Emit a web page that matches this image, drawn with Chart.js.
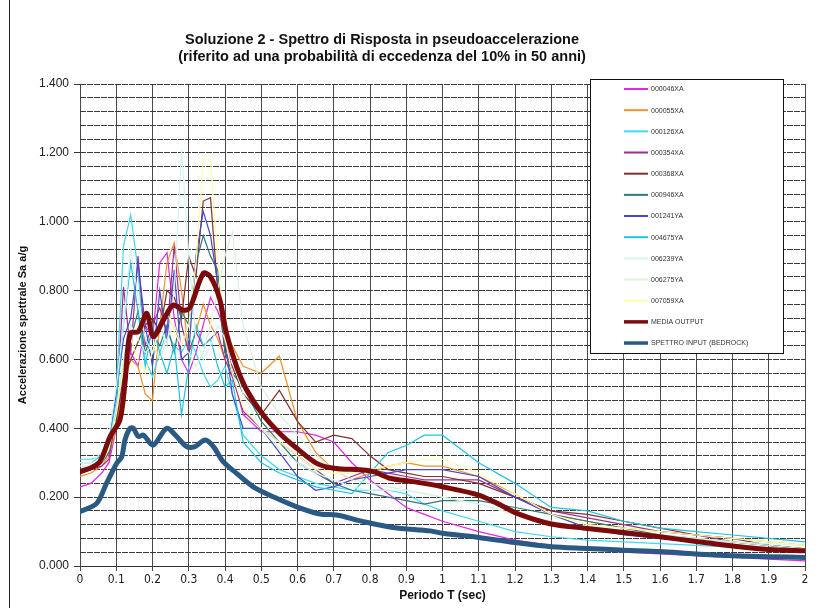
<!DOCTYPE html>
<html>
<head>
<meta charset="utf-8">
<script src="https://cdn.jsdelivr.net/npm/chart.js@4.4.1/dist/chart.umd.min.js"></script>
<style>
  html, body { margin: 0; padding: 0; background: #fff; }
  #wrap { position: relative; width: 823px; height: 608px; }
  #frame { position: absolute; left: 9px; top: 0; width: 1px; height: 608px; background: #222; }
  canvas { display: block; }
</style>
</head>
<body>
<div id="wrap">
  <canvas id="c" width="823" height="608"></canvas>
  <div id="frame"></div>
</div>
<script>
// ---- Data ----
const titleLines = [
  "Soluzione 2 - Spettro di Risposta in pseudoaccelerazione",
  "(riferito ad una probabilità di eccedenza del 10% in 50 anni)"
];
const xTitle = "Periodo T (sec)";
const yTitle = "Accelerazione spettrale Sa a/g";

// Periods (s) for the individual record spectra
const periods = [0, 0.03, 0.06, 0.08, 0.1,
  0.12, 0.14, 0.16, 0.18, 0.2, 0.22, 0.24, 0.26, 0.28, 0.3, 0.32, 0.34, 0.36, 0.38, 0.4,
  0.42, 0.45,
  0.5, 0.55, 0.6, 0.65, 0.7, 0.75, 0.8, 0.85, 0.9, 0.95, 1.0,
  1.1, 1.2, 1.3, 1.4, 1.5, 1.6, 1.7, 1.8, 1.9, 2.0];

const rec000046XA = [0.23,0.24,0.27,0.30,0.40, 0.55,0.62,0.58,0.70,0.66,0.88,0.91,0.72,0.60,0.56,0.62,0.70,0.78,0.74,0.68, 0.56,0.44, 0.39,0.39,0.39,0.38,0.36,0.30,0.25,0.21,0.17,0.15,0.13, 0.10,0.075,0.06,0.05,0.04,0.035,0.03,0.025,0.02,0.015];
const rec000055XA = [0.26,0.27,0.29,0.32,0.40, 0.52,0.60,0.58,0.50,0.48,0.70,0.88,0.94,0.80,0.62,0.68,0.76,0.70,0.66,0.60, 0.64,0.58, 0.56,0.61,0.42,0.33,0.28,0.25,0.27,0.29,0.30,0.29,0.29, 0.26,0.21,0.15,0.13,0.11,0.10,0.09,0.08,0.07,0.06];
const rec000126XA = [0.31,0.31,0.32,0.35,0.50, 0.93,1.02,0.86,0.60,0.55,0.62,0.68,0.64,0.62,0.66,0.62,0.56,0.52,0.54,0.58, 0.50,0.38, 0.32,0.28,0.26,0.24,0.23,0.22,0.22,0.22,0.21,0.18,0.16, 0.13,0.10,0.085,0.075,0.07,0.065,0.06,0.055,0.05,0.05];
const rec000354XA = [0.27,0.28,0.29,0.31,0.45, 0.81,0.62,0.90,0.64,0.70,0.75,0.68,0.93,0.70,0.62,0.68,0.64,0.66,0.68,0.60, 0.55,0.45, 0.40,0.36,0.32,0.28,0.24,0.26,0.28,0.27,0.26,0.25,0.25, 0.25,0.20,0.16,0.14,0.12,0.10,0.09,0.07,0.06,0.05];
const rec000368XA = [0.28,0.28,0.30,0.33,0.42, 0.55,0.60,0.65,0.70,0.72,0.68,0.80,0.78,0.72,0.90,0.84,1.06,1.07,0.80,0.62, 0.58,0.50, 0.44,0.51,0.42,0.36,0.38,0.37,0.32,0.28,0.27,0.26,0.26, 0.24,0.20,0.16,0.15,0.13,0.11,0.09,0.08,0.06,0.05];
const rec000946XA = [0.27,0.28,0.30,0.33,0.44, 0.58,0.66,0.74,0.62,0.68,0.64,0.70,0.62,0.74,0.70,0.88,0.96,0.90,0.86,0.62, 0.56,0.52, 0.42,0.36,0.30,0.27,0.24,0.22,0.21,0.20,0.19,0.18,0.19, 0.19,0.17,0.15,0.13,0.11,0.09,0.08,0.07,0.06,0.05];
const rec001241YA = [0.28,0.29,0.31,0.36,0.50, 0.66,0.72,0.88,0.70,0.58,0.80,0.65,0.86,0.60,0.62,0.90,1.03,0.96,0.82,0.66, 0.50,0.40, 0.40,0.33,0.26,0.22,0.23,0.25,0.26,0.27,0.28,0.28,0.28, 0.26,0.20,0.15,0.11,0.09,0.08,0.07,0.06,0.05,0.04];
const rec004675YA = [0.30,0.30,0.32,0.36,0.48, 0.70,0.88,0.74,0.58,0.70,0.62,0.56,0.64,0.44,0.58,0.70,0.64,0.66,0.58,0.52, 0.54,0.36, 0.30,0.27,0.25,0.23,0.22,0.21,0.27,0.33,0.35,0.38,0.38, 0.30,0.24,0.17,0.16,0.13,0.11,0.10,0.09,0.08,0.07];
const rec006239YA = [0.30,0.30,0.33,0.38,0.52, 0.70,0.92,0.78,0.66,0.62,0.70,0.64,0.80,1.21,0.90,0.66,0.60,0.64,0.70,0.66, 0.60,0.50, 0.40,0.34,0.30,0.27,0.25,0.23,0.22,0.22,0.22,0.21,0.20, 0.18,0.15,0.13,0.11,0.10,0.09,0.08,0.07,0.065,0.06];
const rec006275YA = [0.29,0.29,0.31,0.35,0.46, 0.60,0.70,0.66,0.62,0.64,0.60,0.66,0.70,0.64,0.62,0.58,0.62,0.70,0.80,0.90, 0.97,0.70, 0.52,0.44,0.38,0.32,0.28,0.25,0.24,0.23,0.22,0.21,0.20, 0.18,0.15,0.13,0.11,0.10,0.09,0.08,0.07,0.06,0.05];
const rec007059XA = [0.27,0.28,0.30,0.34,0.44, 0.58,0.66,0.60,0.56,0.62,0.70,0.74,0.68,0.64,0.70,0.88,1.18,1.18,0.90,0.66, 0.56,0.46, 0.40,0.36,0.32,0.28,0.27,0.27,0.28,0.29,0.30,0.31,0.31, 0.27,0.21,0.15,0.12,0.11,0.10,0.09,0.08,0.07,0.06];

// Mean output spectrum
const mediaPeriods = [0, 0.03, 0.055, 0.083, 0.11, 0.124, 0.138, 0.161, 0.184, 0.202, 0.23, 0.257, 0.285, 0.303, 0.34, 0.36, 0.386, 0.404, 0.432, 0.46, 0.505, 0.551, 0.598, 0.653, 0.70, 0.78, 0.81, 0.855, 0.92, 1.0, 1.1, 1.16, 1.205, 1.3, 1.4, 1.5, 1.6, 1.7, 1.8, 1.9, 2.0];
const mediaOutput = [0.274, 0.285, 0.303, 0.376, 0.424, 0.531, 0.676, 0.681, 0.734, 0.666, 0.714, 0.758, 0.743, 0.750, 0.850, 0.840, 0.773, 0.676, 0.579, 0.511, 0.439, 0.385, 0.342, 0.298, 0.284, 0.279, 0.274, 0.255, 0.245, 0.230, 0.206, 0.177, 0.153, 0.122, 0.109, 0.097, 0.085, 0.071, 0.058, 0.048, 0.044];

// Bedrock input spectrum
const inputPeriods = [0, 0.046, 0.073, 0.101, 0.115, 0.124, 0.138, 0.147, 0.161, 0.175, 0.202, 0.239, 0.267, 0.294, 0.317, 0.345, 0.368, 0.395, 0.432, 0.478, 0.533, 0.598, 0.662, 0.708, 0.782, 0.864, 0.966, 1.0, 1.1, 1.2, 1.3, 1.4, 1.5, 1.6, 1.7, 1.8, 1.9, 2.0];
const spettroInput = [0.158, 0.182, 0.240, 0.298, 0.317, 0.366, 0.400, 0.400, 0.376, 0.380, 0.351, 0.400, 0.376, 0.347, 0.347, 0.366, 0.347, 0.303, 0.269, 0.230, 0.201, 0.172, 0.151, 0.148, 0.129, 0.112, 0.102, 0.095, 0.083, 0.068, 0.056, 0.051, 0.046, 0.042, 0.035, 0.030, 0.027, 0.025];

const seriesNames = ["000046XA","000055XA","000126XA","000354XA","000368XA","000946XA","001241YA","004675YA","006239YA","006275YA","007059XA","MEDIA OUTPUT","SPETTRO INPUT (BEDROCK)"];
const seriesColors = ["#E028E0","#F0902C","#40D8F0","#A03090","#803030","#2E7878","#4848C8","#20C4E0","#D4F4F4","#DAF2DA","#FFFFA8","#7B0A0A","#2A5A84"];

// ---- Build datasets ----
const recValues = [rec000046XA, rec000055XA, rec000126XA, rec000354XA, rec000368XA, rec000946XA, rec001241YA, rec004675YA, rec006239YA, rec006275YA, rec007059XA];
const toXY = (xs, ys) => xs.map((x, i) => ({ x: x, y: ys[i] }));

const datasets = recValues.map((vals, i) => ({
  label: seriesNames[i],
  data: toXY(periods, vals),
  borderColor: seriesColors[i],
  backgroundColor: seriesColors[i],
  borderWidth: 1.2,
  pointRadius: 0,
  tension: 0,
  order: 100 - i,
  thick: false
}));
datasets.push({
  label: seriesNames[11], data: toXY(mediaPeriods, mediaOutput),
  borderColor: seriesColors[11], backgroundColor: seriesColors[11],
  borderWidth: 5, pointRadius: 0, tension: 0.3, order: 1, thick: true,
  borderJoinStyle: 'round', borderCapStyle: 'round'
});
datasets.push({
  label: seriesNames[12], data: toXY(inputPeriods, spettroInput),
  borderColor: seriesColors[12], backgroundColor: seriesColors[12],
  borderWidth: 5, pointRadius: 0, tension: 0.3, order: 0, thick: true,
  borderJoinStyle: 'round', borderCapStyle: 'round'
});

const FONT = "'Liberation Sans', Arial, sans-serif";
const NARROW = "'Liberation Sans Narrow', 'DejaVu Sans Condensed', 'Liberation Sans', sans-serif";

const isMajor = v => Math.abs(v / 0.2 - Math.round(v / 0.2)) < 1e-6;

const decorPlugin = {
  id: 'decor',
  afterDraw(chart) {
    const ctx = chart.ctx;
    ctx.save();
    // Title
    ctx.fillStyle = '#111';
    ctx.font = "bold 14.5px " + FONT;
    ctx.textAlign = 'center';
    ctx.textBaseline = 'middle';
    ctx.fillText(titleLines[0], 382, 40);
    ctx.fillText(titleLines[1], 382, 57);
    // Legend box
    const bx = 590.5, by = 79.5, bw = 193, bh = 274;
    ctx.fillStyle = '#fff';
    ctx.fillRect(bx, by, bw, bh);
    ctx.strokeStyle = '#111';
    ctx.lineWidth = 1;
    ctx.strokeRect(bx, by, bw, bh);
    ctx.font = "7px " + FONT;
    ctx.textAlign = 'left';
    chart.data.datasets.forEach((ds, i) => {
      const y = 89 + i * 21.17;
      ctx.strokeStyle = ds.borderColor;
      ctx.lineWidth = ds.thick ? 3.5 : 2;
      ctx.beginPath();
      ctx.moveTo(624, y);
      ctx.lineTo(648, y);
      ctx.stroke();
      ctx.fillStyle = '#333';
      ctx.fillText(ds.label, 651, y + 0.5);
    });
    ctx.restore();
  }
};

new Chart(document.getElementById('c'), {
  type: 'line',
  data: { datasets: datasets },
  plugins: [decorPlugin],
  options: {
    responsive: false,
    animation: false,
    events: [],
    layout: { padding: { top: 84, right: 18, left: 0, bottom: 0 } },
    plugins: { legend: { display: false }, tooltip: { enabled: false }, title: { display: false } },
    scales: {
      x: {
        type: 'linear', min: 0, max: 2,
        ticks: {
          stepSize: 0.1, autoSkip: false, maxRotation: 0, padding: 2,
          color: '#222', font: { family: NARROW, size: 12 },
          callback: v => String(Math.round(v * 10) / 10)
        },
        grid: { color: '#4a4a4a', lineWidth: 1, tickLength: 5, tickColor: '#4a4a4a' },
        border: { display: true, color: '#333', width: 1 },
        title: { display: true, text: xTitle, color: '#111', font: { family: FONT, size: 12, weight: 'bold' }, padding: { top: 0, bottom: 5 } },
        afterFit: s => { s.height = 42; }
      },
      y: {
        type: 'linear', min: 0, max: 1.4,
        ticks: {
          stepSize: 0.04, autoSkip: false, padding: 5,
          color: '#222', font: { family: FONT, size: 12 },
          callback: v => isMajor(v) ? v.toFixed(3) : ''
        },
        grid: {
          color: '#3a3a3a', lineWidth: 1, tickLength: 6,
          tickColor: c => (c.tick && isMajor(c.tick.value)) ? '#333' : 'rgba(0,0,0,0)'
        },
        border: { display: false, dash: [6, 1] },
        title: { display: true, text: yTitle, color: '#111', font: { family: FONT, size: 11, weight: 'bold' }, padding: { top: 16, bottom: 0 } },
        afterFit: s => { s.width = 80; }
      }
    }
  }
});
</script>
</body>
</html>
